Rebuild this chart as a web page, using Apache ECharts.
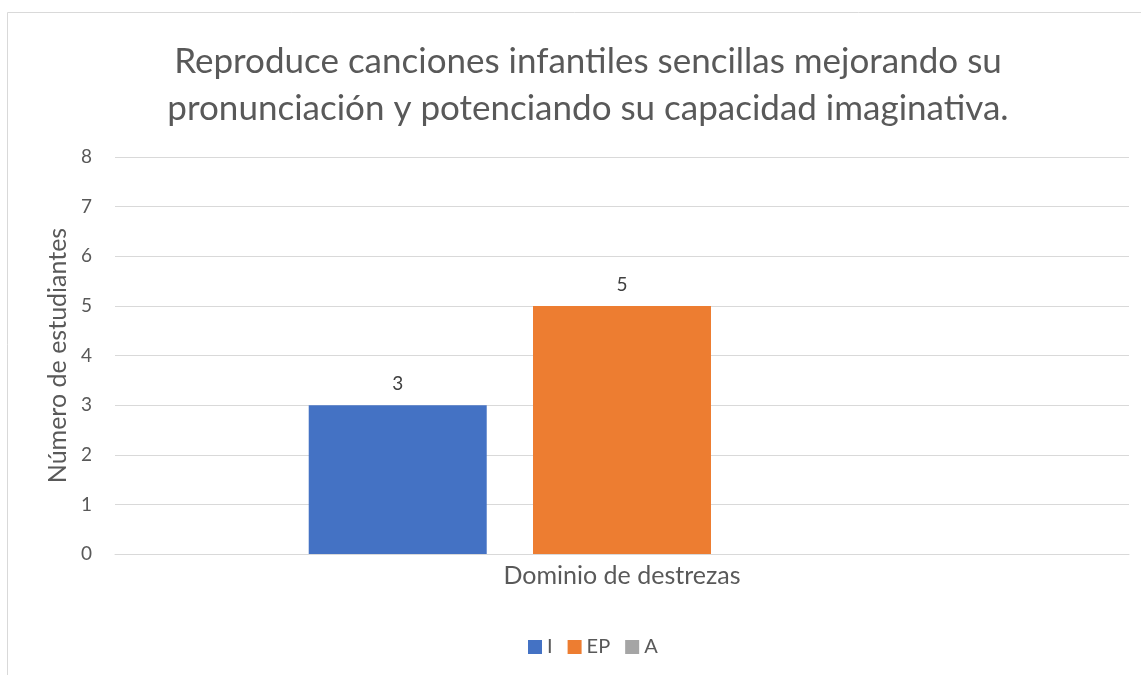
<!DOCTYPE html>
<html>
<head>
<meta charset="utf-8">
<style>
  html, body { margin: 0; padding: 0; background: #fff; }
  #chart { width: 1141px; height: 675px; }
</style>
<script src="https://cdn.jsdelivr.net/npm/echarts@6/dist/echarts.min.js"></script>
</head>
<body>
<div id="chart"></div>
<script>
const categories = ['Dominio de destrezas']
const seriesNames = ['I', 'EP', 'A']
const valuesI = [3]
const valuesEP = [5]
const valuesA = [0]
const yTicks = [0, 1, 2, 3, 4, 5, 6, 7, 8]

const colors = ['#4472C4', '#ED7D31', '#A5A5A5']
const font = 'Lato, "Open Sans", sans-serif'

const chart = echarts.init(document.getElementById('chart'))

function barSeries (name, data, color) {
  return {
    name: name,
    type: 'bar',
    barWidth: 178,
    barGap: '26%',
    itemStyle: { color: color },
    label: {
      show: true,
      position: 'top',
      distance: 12,
      color: '#404040',
      fontFamily: font,
      fontSize: 19,
      formatter (p) { return p.value > 0 ? p.value : '' }
    },
    data: data
  }
}

chart.setOption({
  backgroundColor: '#fff',
  animation: false,
  graphic: [{
    type: 'rect',
    shape: { x: 7.5, y: 12.5, width: 1200, height: 700 },
    style: { fill: 'none', stroke: '#d9d9d9', lineWidth: 1 },
    silent: true
  }],
  title: {
    text: 'Reproduce canciones infantiles sencillas mejorando su\npronunciación y potenciando su capacidad imaginativa.',
    left: 583,
    textAlign: 'center',
    top: 33,
    textStyle: {
      color: '#595959',
      fontFamily: font,
      fontWeight: 'normal',
      fontSize: 35,
      lineHeight: 47
    }
  },
  legend: {
    data: seriesNames,
    bottom: 13,
    left: 523,
    itemWidth: 14,
    itemHeight: 14,
    itemGap: 15,
    icon: 'rect',
    textStyle: { color: '#595959', fontFamily: font, fontSize: 20 }
  },
  grid: { left: 115, right: 12, top: 157, bottom: 121 },
  xAxis: {
    type: 'category',
    data: categories,
    axisLine: { lineStyle: { color: '#d9d9d9', width: 1 } },
    axisTick: { show: false },
    axisLabel: { color: '#595959', fontFamily: font, fontSize: 25, margin: 9 }
  },
  yAxis: {
    type: 'value',
    min: yTicks[0],
    max: yTicks[yTicks.length - 1],
    interval: 1,
    name: 'Número de estudiantes',
    nameLocation: 'middle',
    nameGap: 44,
    nameTextStyle: { color: '#595959', fontFamily: font, fontSize: 25 },
    axisLine: { show: false },
    axisTick: { show: false },
    splitLine: { lineStyle: { color: '#d9d9d9', width: 1 } },
    axisLabel: { color: '#595959', fontFamily: font, fontSize: 19, margin: 23 }
  },
  series: [
    barSeries(seriesNames[0], valuesI, colors[0]),
    barSeries(seriesNames[1], valuesEP, colors[1]),
    barSeries(seriesNames[2], valuesA, colors[2])
  ]
})
</script>
</body>
</html>
